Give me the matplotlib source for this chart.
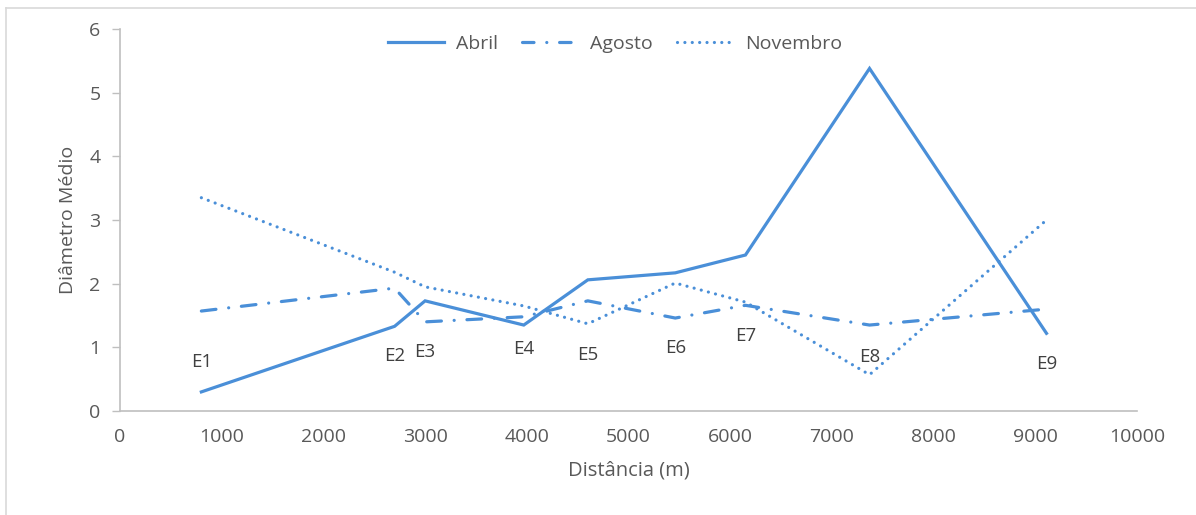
import matplotlib
matplotlib.use("Agg")
import matplotlib.pyplot as plt
from matplotlib.lines import Line2D

plt.rcParams['font.family'] = ['Open Sans', 'DejaVu Sans']

# Station positions along the reach (m) and mean diameter per campaign
stations = ["E1", "E2", "E3", "E4", "E5", "E6", "E7", "E8", "E9"]
distance = [800, 2700, 3000, 3970, 4600, 5460, 6150, 7370, 9110]
abril = [0.30, 1.33, 1.73, 1.35, 2.06, 2.17, 2.45, 5.38, 1.22]
agosto = [1.57, 1.93, 1.40, 1.48, 1.73, 1.46, 1.66, 1.35, 1.60]
novembro = [3.35, 2.18, 1.95, 1.65, 1.37, 2.01, 1.71, 0.57, 3.00]

# Heights at which the station names are written
label_y = [0.77, 0.86, 0.93, 0.97, 0.88, 0.99, 1.18, 0.85, 0.74]

xticks = list(range(0, 10001, 1000))
yticks = list(range(0, 7))

blue = "#4a8fd8"
grey_text = "#595959"
axis_grey = "#bfbfbf"

fig = plt.figure(figsize=(11.96, 5.15), dpi=100)
ax = fig.add_axes([120 / 1196, 1 - 411 / 515, (1137 - 120) / 1196, (411 - 29) / 515])

lw = 2.3
dashdot = (0, (4.6, 4.0, 0.01, 4.0))
dotted = (0, (0.01, 2.3))
ax.plot(distance, abril, color=blue, lw=lw, solid_joinstyle="miter", label="Abril")
ax.plot(distance, agosto, color=blue, lw=lw, linestyle=dashdot,
        dash_capstyle="round", label="Agosto")
ax.plot(distance, novembro, color=blue, lw=lw, linestyle=dotted,
        dash_capstyle="round", label="Novembro")

for name, x, y in zip(stations, distance, label_y):
    ax.text(x, y, name, ha="center", va="center", fontsize=13.5, color="#404040")

ax.set_xlim(0, 10000)
ax.set_ylim(0, 6)
ax.set_xticks(xticks)
ax.set_yticks(yticks)
ax.tick_params(axis="x", length=0, pad=12, labelsize=14, colors=grey_text)
ax.tick_params(axis="y", length=6, width=1, pad=8, labelsize=14, colors=grey_text,
               direction="out")
ax.tick_params(axis="y", color=axis_grey)

for side in ("top", "right"):
    ax.spines[side].set_visible(False)
for side in ("left", "bottom"):
    ax.spines[side].set_color(axis_grey)
    ax.spines[side].set_linewidth(1.2)

ax.set_xlabel("Distância (m)", fontsize=14.5, color=grey_text, labelpad=11)
ax.set_ylabel("Diâmetro Médio", fontsize=14, color=grey_text, labelpad=9)

handles = [
    Line2D([], [], color=blue, lw=lw),
    Line2D([], [], color=blue, lw=lw, linestyle=(0, (3.6, 4.0, 0.01, 4.0)), dash_capstyle="round"),
    Line2D([], [], color=blue, lw=lw, linestyle=dotted, dash_capstyle="round"),
]
leg = ax.legend(handles, ["Abril", "Agosto", "Novembro"], loc="upper center",
                bbox_to_anchor=(0.487, 1.03), ncol=3, frameon=False, fontsize=14,
                handlelength=2.9, columnspacing=1.25, handletextpad=0.6)
for t in leg.get_texts():
    t.set_color(grey_text)

# chart frame edges
frame_col = "#d9d9d9"
fig.add_artist(Line2D([6 / 1196, 1.0], [1 - 8 / 515, 1 - 8 / 515], color=frame_col, lw=1.2,
                      transform=fig.transFigure))
fig.add_artist(Line2D([6 / 1196, 6 / 1196], [0.0, 1 - 8 / 515], color=frame_col, lw=1.2,
                      transform=fig.transFigure))

fig.savefig("out.png", dpi=100, facecolor="white")
